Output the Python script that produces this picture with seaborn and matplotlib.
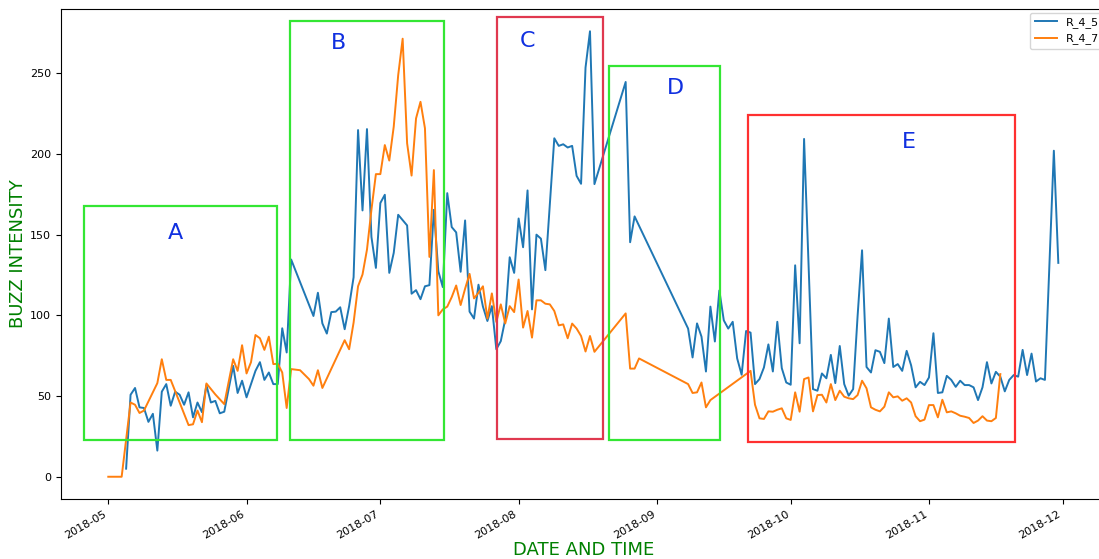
import matplotlib
matplotlib.use("Agg")
import matplotlib.pyplot as plt
import matplotlib.dates as mdates
from matplotlib.patches import Rectangle
import pandas as pd
import seaborn as sns

START = pd.Timestamp("2018-05-01")

# Sensor R_4_5: days since 2018-05-01 and buzz intensity
r45_day = [4, 5, 6, 7, 8, 9, 10, 11, 12, 13, 14, 15, 16, 17, 18, 19, 20, 21, 22, 23,
           24, 25, 26, 28, 29, 30, 31, 32, 33, 34, 35, 36, 37, 38, 39, 40, 41, 46, 47, 48,
           49, 50, 51, 52, 53, 54, 55, 56, 57, 58, 59, 60, 61, 62, 63, 64, 65, 67, 68, 69,
           70, 71, 72, 73, 74, 75, 76, 77, 78, 79, 80, 81, 82, 83, 84, 85, 86, 87, 88, 89,
           90, 91, 92, 93, 94, 95, 96, 97, 98, 100, 101, 102, 103, 104, 105, 106, 107, 108, 109, 116,
           117, 118, 130, 131, 132, 133, 134, 135, 136, 137, 138, 139, 140, 141, 142, 143, 144, 145, 146, 147,
           148, 149, 150, 151, 152, 153, 154, 155, 156, 158, 159, 160, 161, 162, 163, 164, 165, 166, 167, 168,
           169, 170, 171, 172, 173, 174, 175, 176, 177, 178, 179, 180, 181, 182, 183, 184, 185, 186, 187, 188,
           189, 190, 191, 192, 193, 194, 195, 196, 197, 198, 199, 200, 201, 202, 203, 204, 205, 206, 207, 208,
           209, 210, 212, 213]
r45_val = [5, 50.8, 55, 43, 42.6, 34, 39, 16.2, 52.7, 57.4, 44, 52.7, 50.8, 44.6, 52.3, 36.8, 46, 40, 56.8, 46,
           47, 39.3, 40.3, 68.7, 51.9, 59.5, 49.2, 57.4, 65.6, 71, 60, 64.6, 57.4, 57.4, 92, 77, 134.6, 99.6, 114, 95,
           88.7, 102, 102.3, 105, 91.4, 105.7, 123.6, 214.8, 165, 215.4, 148.6, 129.4, 169.6, 174.7, 126.3, 138.7, 162.3, 155.7, 113.4, 115.6,
           110, 118, 118.7, 165.4, 127.3, 117.5, 175.7, 154.7, 151.4, 127, 158.8, 102.3, 98, 119, 105.4, 96.5, 105.7, 79, 84, 97.5,
           136, 126.3, 160, 142.2, 177.4, 103.7, 150, 147.5, 128, 209.7, 205, 206, 204, 205, 186.4, 181.5, 253.5, 276, 181.3, 244.6,
           145.3, 161.3, 91.8, 73.9, 95, 86.8, 65.2, 105.4, 83.8, 115.4, 96.9, 91.8, 96, 73.3, 63.2, 90.3, 89.3, 57.4, 60.5, 67.7,
           82, 65.2, 96, 67.3, 58.4, 57, 131, 82.7, 209.3, 54.3, 53.3, 64, 61, 75.5, 58, 81, 57.4, 50.2, 54.3, 99.6,
           140.3, 68, 64.6, 78.4, 77.4, 70.4, 98, 68, 69.8, 65.6, 78, 69, 55.4, 58.8, 56.8, 61.5, 88.9, 51.9, 52.3, 62.5,
           60, 55.7, 59.5, 56.8, 56.8, 55.4, 47.5, 55.4, 71, 57.8, 65, 62, 52.9, 60, 63, 62, 78.6, 63, 76.3, 59,
           61, 60, 202, 132.5]

# Sensor R_4_7: days since 2018-05-01 and buzz intensity
r47_day = [0, 1, 2, 3, 5, 6, 7, 8, 11, 12, 13, 14, 18, 19, 20, 21, 22, 24, 26, 28,
           29, 30, 31, 32, 33, 34, 35, 36, 37, 38, 39, 40, 41, 43, 45, 46, 47, 48, 53, 54,
           55, 56, 57, 58, 59, 60, 61, 62, 63, 64, 65, 66, 67, 68, 69, 70, 71, 72, 73, 74,
           75, 76, 77, 78, 79, 80, 81, 82, 83, 84, 85, 86, 87, 88, 89, 90, 91, 92, 93, 94,
           95, 96, 97, 98, 99, 100, 101, 102, 103, 104, 105, 106, 107, 108, 109, 116, 117, 118, 119, 130,
           131, 132, 133, 134, 135, 144, 145, 146, 147, 148, 149, 150, 151, 152, 153, 154, 155, 156, 157, 158,
           159, 160, 161, 162, 163, 164, 165, 166, 167, 168, 169, 170, 171, 172, 173, 174, 175, 176, 177, 178,
           179, 180, 181, 182, 183, 184, 185, 186, 187, 188, 189, 190, 191, 192, 193, 194, 195, 196, 197, 198,
           199, 200]
r47_val = [0, 0, 0, 0, 46, 44.6, 39.5, 41, 58, 72.8, 60, 60, 32, 32.5, 41, 33.8, 57.8, 51, 45, 72.8,
           65.6, 81.5, 64, 71, 87.8, 85.8, 78.6, 86.8, 69.8, 70, 64.6, 42.6, 66.7, 66, 60.5, 56.4, 66, 55, 84.6, 79,
           95.5, 118, 125.3, 140.7, 165.4, 187.5, 187.5, 205.5, 195.9, 216.9, 248.8, 271.4, 206.6, 186.6, 222, 232.3, 215.9, 136.2, 190, 100,
           103.7, 105.4, 111.3, 118.5, 106.4, 116.5, 125.7, 110.5, 114, 118, 98, 113.6, 95.9, 106.8, 95, 105.7, 102, 122.2, 92.4, 102.7,
           86.2, 109.3, 109.3, 107.2, 106.8, 102.7, 93.8, 94.4, 85.8, 94.9, 91.8, 87.2, 77.6, 87.2, 77.4, 101.2, 67, 67, 73.3, 57.4,
           51.9, 52.3, 58.4, 43, 47.5, 65.6, 44.6, 36.2, 35.8, 40.5, 40.3, 41.5, 42.4, 36.2, 35.2, 52.3, 40.3, 60.5, 61.5, 40.5,
           50.6, 50.8, 46, 57.4, 47.5, 53.3, 49.6, 48.6, 48.1, 50.6, 59.5, 54.8, 43, 41.5, 40.5, 43.4, 52.3, 49.2, 49.8, 47.1,
           48.6, 46, 37.5, 34.4, 35.4, 44.4, 44.4, 36.8, 47.7, 39.9, 40.5, 39.3, 37.8, 37.2, 36.4, 33.3, 34.8, 37.5, 34.8, 34.4,
           36.4, 63.6]

SERIES = ["R_4_5", "R_4_7"]
COLORS = ["#1f77b4", "#ff7f0e"]

# Highlighted periods: label, start, end, lower, upper, edge colour, label anchor
REGIONS = [
    ("A", "2018-04-25 11:30", "2018-06-07 22:00", 22.7, 167.9, "#33e633", "2018-05-16 02:00", 151),
    ("B", "2018-06-10 20:00", "2018-07-15 06:30", 22.7, 282.5, "#33e633", "2018-06-21 17:00", 268.7),
    ("C", "2018-07-27 03:30", "2018-08-19 22:00", 23.2, 284.6, "#e0384f", "2018-08-03 00:00", 270),
    ("D", "2018-08-21 06:00", "2018-09-15 06:00", 22.7, 254.6, "#33e633", "2018-09-05 05:00", 240.8),
    ("E", "2018-09-21 10:00", "2018-11-20 05:30", 21.7, 224.1, "#ff3030", "2018-10-27 12:00", 207.4),
]

r45 = pd.DataFrame({"date": START + pd.to_timedelta(r45_day, unit="D"), "value": r45_val})
r47 = pd.DataFrame({"date": START + pd.to_timedelta(r47_day, unit="D"), "value": r47_val})

fig = plt.figure(figsize=(10.99, 5.59), dpi=100)
ax = fig.add_axes([0.0553, 0.1073, 0.9509, 0.8766])

for df, name, col in zip([r45, r47], SERIES, COLORS):
    sns.lineplot(data=df, x="date", y="value", ax=ax, color=col, linewidth=1.4,
                 label=name, estimator=None)

# limits follow the data only; the boxes are overlays
xlim, ylim = ax.get_xlim(), ax.get_ylim()

for lab, t0, t1, lo, hi, ec, tx, ty in REGIONS:
    x0 = mdates.date2num(pd.Timestamp(t0))
    x1 = mdates.date2num(pd.Timestamp(t1))
    ax.add_patch(Rectangle((x0, lo), x1 - x0, hi - lo, fill=False,
                           edgecolor=ec, linewidth=1.6, zorder=3))
    ax.text(mdates.date2num(pd.Timestamp(tx)), ty, lab, color="#1030e0",
            fontsize=16, ha="center", va="center")

ax.set_xlim(xlim)
ax.set_ylim(ylim)

ax.xaxis.set_major_locator(mdates.MonthLocator())
ax.xaxis.set_major_formatter(mdates.DateFormatter("%Y-%m"))
ax.tick_params(axis="both", labelsize=8)
for lbl in ax.get_xticklabels():
    lbl.set_rotation(30)
    lbl.set_ha("right")

ax.set_xlabel("DATE AND TIME", color="green", fontsize=13, labelpad=0)
ax.set_ylabel("BUZZ INTENSITY", color="green", fontsize=13, labelpad=2)
ax.legend(loc="upper right", fontsize=8, bbox_to_anchor=(1.003, 1.004))

fig.savefig("out.png", dpi=100)
